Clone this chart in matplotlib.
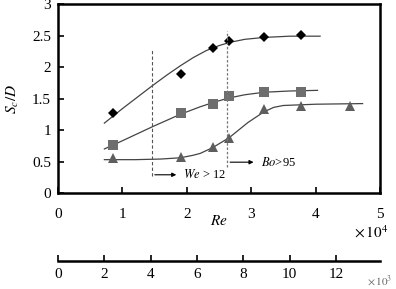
import numpy as np
import matplotlib
matplotlib.use("Agg")
import matplotlib.pyplot as plt

plt.rcParams["font.family"] = ["Liberation Serif", "DejaVu Serif"]
plt.rcParams["mathtext.fontset"] = "stix"

# measured points (Re in units of 10^4)
re_pts = [0.86, 1.91, 2.40, 2.66, 3.20, 3.78]
diamond_y = [1.27, 1.89, 2.30, 2.41, 2.48, 2.51]
square_y = [0.76, 1.27, 1.41, 1.54, 1.60, 1.60]
tri_x = [0.86, 1.91, 2.40, 2.66, 3.20, 3.78, 4.54]
tri_y = [0.55, 0.57, 0.73, 0.87, 1.33, 1.38, 1.38]

# trend curves
diamond_cx = [0.72, 1.0, 1.46, 1.7, 1.9, 2.1, 2.3, 2.5, 2.66, 2.9, 3.2, 3.6, 4.07]
diamond_cy = [1.11, 1.34, 1.70, 1.88, 2.02, 2.15, 2.26, 2.34, 2.39, 2.44, 2.47, 2.49, 2.49]
square_cx = [0.72, 1.0, 1.46, 1.9, 2.21, 2.45, 2.66, 2.9, 3.2, 3.6, 4.03]
square_cy = [0.70, 0.83, 1.05, 1.25, 1.37, 1.45, 1.51, 1.56, 1.60, 1.62, 1.63]
tri_cx = [0.72, 1.2, 1.6, 1.9, 2.1, 2.21, 2.4, 2.66, 2.95, 3.2, 3.35, 3.5, 4.0, 4.73]
tri_cy = [0.53, 0.53, 0.54, 0.56, 0.60, 0.63, 0.72, 0.88, 1.12, 1.29, 1.36, 1.39, 1.41, 1.42]

x_ticks = [0, 1, 2, 3, 4, 5]
y_ticks = [0, 0.5, 1, 1.5, 2, 2.5, 3]
y_ticklabels = ["0", "0.5", "1", "1.5", "2", "2.5", "3"]
x2_ticks = [0, 2, 4, 6, 8, 10, 12]

fig = plt.figure(figsize=(3.96, 2.89), dpi=100)
ax = fig.add_axes([0.1465, 0.332, 0.813, 0.654])

line_c = "#444444"
ax.plot(diamond_cx, diamond_cy, color=line_c, lw=0.9)
ax.plot(square_cx, square_cy, color=line_c, lw=0.9)
ax.plot(tri_cx, tri_cy, color=line_c, lw=0.9)
ax.plot(re_pts, diamond_y, "D", color="black", ms=5.5, mew=0)
ax.plot(re_pts, square_y, "s", color="#6e6e6e", ms=6.5, mew=0)
ax.plot(tri_x, tri_y, "^", color="#5e5e5e", ms=6.5, mew=0)

# regime markers
ax.plot([1.46, 1.46], [0.27, 2.28], ls=(0, (3, 2)), color="#555555", lw=0.8)
ax.plot([2.63, 2.63], [0.42, 2.58], ls=(0, (2, 1.5)), color="#777777", lw=0.9)
ax.annotate("", xy=(1.88, 0.29), xytext=(1.46, 0.29),
            arrowprops=dict(arrowstyle="-|>", color="black", lw=0.8, mutation_scale=6))
ax.text(1.94, 0.29, r"$We$ > 12", fontsize=9, va="center", ha="left")
ax.annotate("", xy=(3.08, 0.49), xytext=(2.63, 0.49),
            arrowprops=dict(arrowstyle="-|>", color="black", lw=0.8, mutation_scale=6))
ax.text(3.15, 0.49, r"$Bo$>95", fontsize=9, va="center", ha="left")

ax.set_xlim(0, 5)
ax.set_ylim(0, 3)
ax.set_xticks(x_ticks)
ax.set_yticks(y_ticks)
ax.set_yticklabels(y_ticklabels)
ax.tick_params(direction="in", length=4, width=1.2, labelsize=11)
ax.tick_params(axis="x", pad=11)
ax.tick_params(axis="y", pad=5)
for s in ax.spines.values():
    s.set_linewidth(1.8)

ax.set_xlabel(r"$Re$", fontsize=11, labelpad=-5)
ax.set_ylabel(r"$S_c/D$", fontsize=11, labelpad=8)
ax.text(1.025, -0.165, r"$\times\,10^4$", transform=ax.transAxes, fontsize=11,
        ha="right", va="top")

# secondary scale below
ax2 = fig.add_axes([0.1465, 0.097, 0.813, 0.001])
ax2.set_xlim(0, 13.9)
ax2.set_ylim(0, 1)
ax2.set_xticks(x2_ticks)
ax2.set_yticks([])
for k in ["top", "left", "right"]:
    ax2.spines[k].set_visible(False)
ax2.spines["bottom"].set_linewidth(1.8)
ax2.tick_params(axis="x", direction="in", length=4, width=1.2, labelsize=11, pad=5)
ax2.patch.set_visible(False)
fig.text(0.99, 0.003, r"$\times\,10^3$", fontsize=8, ha="right", va="bottom",
         color="#666666")

fig.savefig("out.png", dpi=100)
